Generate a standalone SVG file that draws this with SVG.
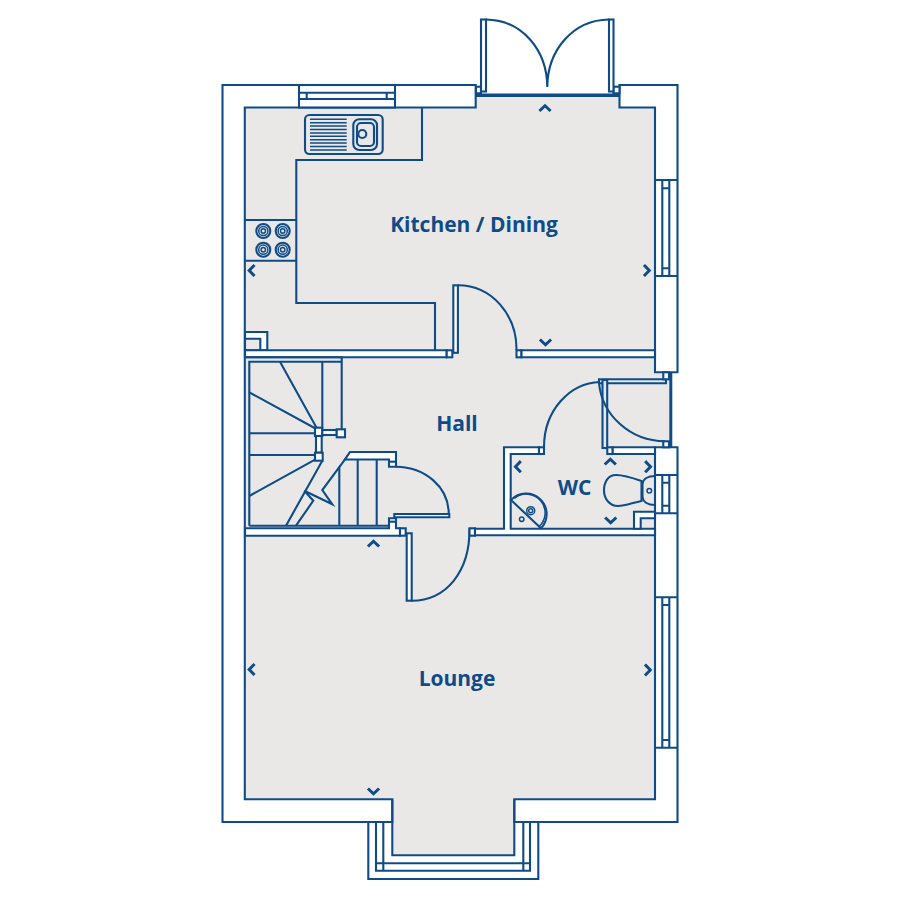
<svg xmlns="http://www.w3.org/2000/svg" width="900" height="900" viewBox="0 0 900 900">
<style>
.l{fill:none;stroke:#0f4c87;stroke-width:2.1;stroke-linejoin:miter}
.t{fill:none;stroke:#0f4c87;stroke-width:1.5}
.w{fill:#fff;stroke:#0f4c87;stroke-width:2.1}
.g{fill:#e9e8e7;stroke:#0f4c87;stroke-width:2.1}
.c{fill:none;stroke:#0f4c87;stroke-width:3;stroke-linecap:square;stroke-linejoin:miter}
text{font-family:"Open Sans","Noto Sans",sans-serif;font-weight:700;fill:#0f4c87;text-anchor:middle}
</style>
<defs>
<g id="hob"><circle r="7" class="l" stroke-width="1.5"/><circle r="4.600" class="t"/><circle r="2.200" class="t"/></g>
<path id="up" d="M-4.500 2.500L0-1.800L4.500 2.500" class="c"/>
<path id="down" d="M-4.500-2.500L0 1.800L4.500-2.500" class="c"/>
<path id="left" d="M2.500-4.500L-1.800 0L2.500 4.500" class="c"/>
<path id="right" d="M-2.500-4.500L1.800 0L-2.500 4.500" class="c"/>
</defs>
<rect width="900" height="900" fill="#fff"/>
<path id="floor" fill="#e9e8e7" d="M245 108H476V96H619V108H655V372H670V447H655V799H514V855H392V799H245Z"/>
<g id="outer-walls">
<path class="w" d="M222.500 85H475.700V107.500H244.800V799.300H392.300V822H222.500Z"/>
<path class="w" d="M619.500 85H677.500V372.300H655V107.500H619.500Z"/>
<path class="w" d="M655 447.300H677.500V822H514.300V799.300H655Z"/>
<path class="l" d="M392.300 799.300V855.300H514.300V799.300"/>
</g>
<g id="window-top">
<rect class="w" x="299" y="85" width="96" height="22.500"/>
<path class="l" d="M299 92.700H395M299 99H395M306.700 92.700V99M386.700 92.700V99"/>
<path class="l" stroke-width="2.600" d="M299 85H395"/>
</g>
<g id="french-doors">
<path d="M476 95.300H619.500" fill="none" stroke="#0f4c87" stroke-width="3.600"/>
<rect class="w" x="476" y="86.700" width="5" height="6.600"/>
<rect class="w" x="613.500" y="86.700" width="6" height="6.600"/>
<rect class="w" x="481" y="19.500" width="5" height="72"/>
<rect class="w" x="609" y="19.500" width="4.500" height="72"/>
<path class="l" stroke-width="2.300" d="M486 19.500C522 20 547 50 547.300 87C547.600 50 573 20 609 19.500"/>
</g>
<g id="window-right-kitchen">
<path class="l" d="M655 180H677.500M655 276H677.500"/>
<path class="l" d="M662.300 180V276M669.300 180V276M662.300 188.300H669.300M662.300 268.300H669.300"/>
</g>
<g id="window-right-lounge">
<path class="l" d="M655 597.300H677.500M655 747.700H677.500"/>
<path class="l" d="M662.300 597.300V747.700M669.300 597.300V747.700M662.300 605H669.300M662.300 740H669.300"/>
</g>
<g id="window-right-wc">
<path class="l" d="M655 475H677.500M655 513.300H677.500"/>
<path class="l" d="M662.300 475V513.300M669.300 475V513.300M662.300 482.700H669.300M662.300 505.700H669.300"/>
</g>
<g id="bay-window">
<path class="l" d="M368.300 822V879H538.300V822"/>
<path class="l" d="M376 822V870.700H530V822M383.300 822V870.700M523.300 822V870.700M376 863.300H530"/>
</g>
<g id="kitchen-fittings">
<path class="l" d="M422 107.500V160H296.300V303H435V350"/>
<path class="l" d="M245 220H296.300M245 260.700H296.300"/>
<use href="#hob" x="263.300" y="231"/><use href="#hob" x="282.700" y="231"/>
<use href="#hob" x="263.300" y="249.700"/><use href="#hob" x="282.700" y="249.700"/>
<rect class="l" x="305" y="115" width="77.700" height="39" rx="4.500"/>
<rect class="l" x="353.300" y="119.300" width="23.700" height="30.700" rx="6"/>
<rect class="l" x="357" y="123" width="17" height="23" rx="4"/>
<circle class="l" cx="362.300" cy="134" r="4"/>
<path class="t" d="M310 119.300H346.700M310 122.700H346.700M310 126.100H346.700M310 129.500H346.700M310 132.900H346.700M310 136.300H346.700M310 139.700H346.700M310 143.100H346.700M310 146.500H346.700M310 149.900H346.700"/>
<path class="w" d="M245 332H267.300V350.300H245Z"/>
<path class="g" d="M245 338.700H260.300V350.300H245Z"/>
</g>
<g id="kitchen-hall-wall">
<path class="w" d="M245 350.300H446.700V357.300H245Z"/>
<rect class="w" x="446.700" y="350.300" width="5.600" height="7"/>
<rect class="w" x="453.300" y="285.300" width="4.600" height="67.500"/>
<path class="l" stroke-width="2.300" d="M458 285.300C492 285.500 517 315 516.500 350.300"/>
<rect class="w" x="516.500" y="350.300" width="5" height="7"/>
<path class="w" d="M521.500 350.300H655V357.300H521.500Z"/>
</g>
<g id="stairs">
<path class="l" d="M249.300 525.700V361.700H341.700M245 357.300H341.700V430"/>
<path class="l" d="M322.300 361.700V428M280 361.700L316.700 428M249.300 392.300L315.500 428.500M249.300 433.300H315M249.300 455H315M249.300 496L315.500 459.300"/>
<path class="l" d="M322.300 460.700L286 525.700M296 525.700L313.300 500.700L304.300 490.700L332.300 504.300L322.300 490L350 452.700"/>
<path class="l" d="M339.300 466.500V525.700M357.700 459.500V525.700M376.700 459.500V525.700M249.300 525.700H389"/>
<rect class="w" x="315" y="427.700" width="7.300" height="8.300"/>
<rect class="w" x="322.300" y="430" width="14.500" height="5"/>
<rect class="w" x="336.700" y="429.300" width="8.300" height="8"/>
<rect class="w" x="316" y="436" width="5.700" height="16.700"/>
<rect class="w" x="315" y="452.700" width="7.700" height="8"/>
<path class="w" d="M350 452H396V466.700H389V459.500H345Z"/>
<path class="l" d="M389 461.700H396"/>
<path class="l" stroke-width="2.300" d="M396 466.700C425 467 449 487 448.700 514"/>
<path class="w" d="M394.300 514H449.300V517.300H394.300Z"/>
</g>
<g id="hall-lounge-wall">
<path class="w" d="M245 535.700V528.300H389V518.300H396V528.300H400V535.700Z"/>
<path class="l" d="M389 521.700H396"/>
<rect class="w" x="400" y="528.300" width="5.700" height="7.400"/>
<rect class="w" x="406.700" y="533.300" width="5" height="67.400"/>
<path class="l" stroke-width="2.300" d="M411.700 600.700C446 600.500 470 572 469.500 528.300"/>
<rect class="w" x="469.500" y="528.300" width="5.500" height="7.400"/>
<path class="w" d="M475 528.700H504V447.300H539V454H510.700V528.700H655V535.300H475Z"/>
</g>
<g id="wc">
<rect class="w" x="539" y="447.300" width="5" height="6.700"/>
<path class="l" stroke-width="2.300" d="M544 447.300C544 410 570 383 600 382"/>
<path class="l" d="M599 379.300H666V383.300H599Z"/>
<rect class="g" x="602.500" y="380" width="4.700" height="68"/>
<path class="l" stroke-width="2.300" d="M599 383C602 415 630 441 665 441.300"/>
<rect class="w" x="663.300" y="372.300" width="5.700" height="7"/>
<rect class="w" x="663.300" y="441.300" width="5.700" height="6"/>
<path d="M670.800 372.300V447.300" fill="none" stroke="#0f4c87" stroke-width="3"/>
<rect class="w" x="607.300" y="447.300" width="5.400" height="6.700"/>
<path class="w" d="M612.700 447.300H655V454H612.700Z"/>
<path class="l" d="M641.500 481C630 477 621 475 616 475C608 475 604 482 604 490.500C604 499 610 506 618 506C625 506 632 503 641.500 501Z"/>
<path class="l" d="M655 476C648 476 643 479 642.500 484V497C643 502 648 505 655 505"/>
<circle class="t" cx="649.300" cy="490.700" r="2.300"/>
<path class="w" d="M634 528.700V511.700H655V518.300H640.700V528.700Z"/>
<path class="l" d="M511 500A20.500 20.500 0 1 1 541 528.300Z"/>
<path class="t" d="M514.500 498.500A18 18 0 0 1 538.500 527"/>
<circle class="t" cx="530.700" cy="510.700" r="4"/>
<circle class="t" cx="530.700" cy="510.700" r="2"/>
<circle class="t" cx="521.700" cy="519.300" r="2.200"/>
</g>
<g id="labels">
<text x="474" y="232" font-size="21">Kitchen / Dining</text>
<text x="457" y="431" font-size="21">Hall</text>
<text x="574.500" y="495" font-size="21">WC</text>
<text x="457" y="686" font-size="21">Lounge</text>
</g>
<g id="chevrons">
<use href="#up" x="545" y="107.500"/><use href="#left" x="251" y="270.500"/><use href="#right" x="647.500" y="270.500"/><use href="#down" x="545.500" y="343"/>
<use href="#up" x="373.500" y="543"/><use href="#left" x="251" y="669.500"/><use href="#right" x="648.500" y="670"/><use href="#down" x="373.500" y="792"/>
<use href="#left" x="517.300" y="466.700"/><use href="#up" x="610.300" y="461"/><use href="#right" x="648.700" y="466.700"/><use href="#down" x="610.700" y="521"/>
</g>
</svg>
